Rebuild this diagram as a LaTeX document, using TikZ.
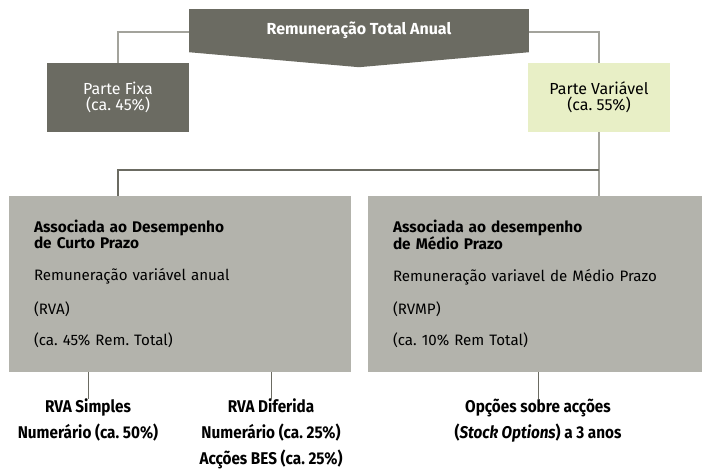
\documentclass[tikz,border=0pt]{standalone}
\usepackage{fontspec}
\setmainfont{Fira Sans}
\newfontfamily\narrowfont{Fira Sans}[FakeStretch=0.9]
\usetikzlibrary{positioning,calc}
\frenchspacing

\definecolor{bandgray}{HTML}{6B6B62}
\definecolor{palegreen}{HTML}{E8EFC6}
\definecolor{boxgray}{HTML}{B3B3AC}
\definecolor{linegray}{HTML}{A3A39C}

\begin{document}
\begin{tikzpicture}[
  x=1pt, y=-1pt,
  banner/.style={fill=bandgray, text=white, minimum width=340pt,
    minimum height=43pt, inner sep=0pt, align=center,
    font=\fontsize{16}{18}\selectfont\bfseries},
  partbox/.style={minimum width=142pt, minimum height=69pt, inner sep=0pt,
    align=center, font=\fontsize{16}{16}\selectfont},
  bigbox/.style={fill=boxgray, minimum height=176pt, inner xsep=25pt,
    inner ysep=0pt, align=left, font=\fontsize{15.1}{16}\selectfont},
  leaf/.style={align=center, anchor=north, inner sep=0pt,
    font=\narrowfont\fontsize{17}{26}\selectfont\bfseries},
  thin/.style={draw=linegray, line width=1.2pt},
  dark/.style={draw=bandgray, line width=1.2pt},
]
  \useasboundingbox (0,0) rectangle (703,469);

  % Top: total remuneration banner
  \node[banner] (total) at (359,30.5) {Remuneração Total Anual};
  \fill[bandgray] (total.south west) -- ($(total.south)+(0,15)$)
    -- (total.south east) -- cycle;

  % Fixed and variable part
  \node[partbox, fill=bandgray, text=white] (fixa) at (118,97.5)
    {Parte Fixa\\(ca. 45\%)};
  \node[partbox, fill=palegreen] (var) at (599,97.5)
    {Parte Variável\\(ca. 55\%)};

  % Short and medium term
  \node[bigbox, text width=292pt] (rva) at (180,284)
    {\textbf{\fontsize{15.4}{16}\selectfont Associada ao Desempenho}\\
     \textbf{\fontsize{15.4}{16}\selectfont de Curto Prazo}\\[16pt]
     Remuneração variável anual\\[16pt]
     (RVA)\\[15pt]
     (ca. 45\% Rem. Total)};
  \node[bigbox, text width=284pt] (rvmp) at (535,284)
    {\textbf{\fontsize{15.4}{16}\selectfont Associada ao desempenho}\\
     \textbf{\fontsize{15.4}{16}\selectfont de Médio Prazo}\\[16pt]
     Remuneração variavel de Médio Prazo\\[16pt]
     (RVMP)\\[15pt]
     (ca. 10\% Rem Total)};

  % Leaves
  \node[leaf] (simples) at (88,399)
    {RVA Simples\\Numerário (ca. 50\%)};
  \node[leaf] (diferida) at (271,399)
    {RVA Diferida\\Numerário (ca. 25\%)\\Acções BES (ca. 25\%)};
  \node[leaf] (opcoes) at (538,399)
    {Opções sobre acções\\(\textit{Stock Options}) a 3 anos};

  % Connectors
  \coordinate (split) at (599,170);
  \draw[thin] (total.west |- 0,32) -| (fixa.north);
  \draw[thin] (total.east |- 0,32) -| (var.north);
  \draw[thin, line width=2pt] (var.south) -- (var.south |- rvmp.north);
  \draw[dark] (split) -| (fixa.south |- rva.north);
  \draw[dark, line width=0.8pt] (rva.south -| simples) -- (simples.north);
  \draw[dark, line width=0.8pt] (rva.south -| diferida) -- (diferida.north);
  \draw[dark, line width=0.8pt] (rvmp.south -| opcoes) -- (opcoes.north);
\end{tikzpicture}
\end{document}
